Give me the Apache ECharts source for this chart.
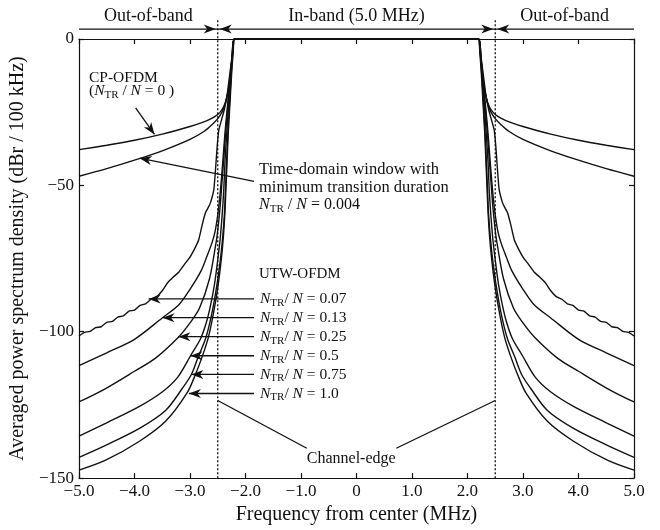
<!DOCTYPE html>
<html>
<head>
<meta charset="utf-8">
<script src="https://cdn.jsdelivr.net/npm/echarts@6/dist/echarts.min.js"></script>
<style>
  html, body { margin: 0; padding: 0; background: #fff; }
  #chart { width: 660px; height: 530px; }
</style>
</head>
<body>
<div id="chart"></div>
<script>
// 坐标轴范围
const freqMin = -5, freqMax = 5;
const psdMin = -150, psdMax = 0;
const channelEdge = 2.5;

// 左半边频谱 (MHz, dBr)，右半边为镜像
const cpFreq = [-5, -4.5, -4, -3.5, -3, -2.75, -2.6, -2.5, -2.42, -2.36, -2.31, -2.27, -2.24, -2.22, -2.2];
const cpPsd = [-37.8, -36.3, -34.6, -32.5, -29.9, -28.3, -27, -25.8, -24, -21.5, -17.5, -12, -6.5, -2.5, 0];

const minWinFreq = [-5, -4.5, -4, -3.5, -3, -2.75, -2.6, -2.5, -2.42, -2.36, -2.31, -2.27, -2.24, -2.22, -2.2];
const minWinPsd = [-46.9, -44.3, -41.4, -38.2, -34.3, -31.6, -29.2, -27.2, -24.8, -21.8, -17.5, -12, -6.5, -2.5, 0];

const utw007Freq = [-5, -4.9, -4.8, -4.7, -4.6, -4.5, -4.4, -4.3, -4.2, -4.1, -4, -3.9, -3.8, -3.7, -3.6, -3.5, -3.4, -3.3, -3.2, -3.1, -3, -2.9, -2.84, -2.78, -2.72, -2.67, -2.63, -2.57, -2.54, -2.51, -2.48, -2.43, -2.38, -2.33, -2.29, -2.25, -2.22, -2.2];
const utw007Psd = [-101.4, -100.2, -99.9, -98.6, -98.3, -96.8, -96.5, -95, -94.6, -93, -92.6, -91, -90.5, -88.9, -88, -86, -83.2, -81.3, -79.6, -77, -74.5, -71, -68.4, -63.5, -59.3, -57.5, -55.9, -51.4, -44.6, -36.6, -31, -27.5, -24, -19, -13, -7, -2.5, 0];

const utw013Freq = [-5, -4.5, -4, -3.5, -3.2, -3, -2.8, -2.7, -2.6, -2.54, -2.48, -2.43, -2.39, -2.36, -2.32, -2.28, -2.24, -2.2];
const utw013Psd = [-111.6, -107.2, -102.6, -95.3, -90.8, -85.5, -79.2, -74.5, -69.4, -65, -57, -47, -37, -30, -22, -14, -6, 0];

const utw025Freq = [-5, -4.52, -4, -3.62, -3.2, -3, -2.83, -2.65, -2.54, -2.51, -2.46, -2.42, -2.38, -2.35, -2.31, -2.27, -2.24, -2.2];
const utw025Psd = [-124, -119.4, -113.5, -109, -101.7, -97, -92, -82, -70.7, -67, -58, -48, -38, -30, -21, -13, -6, 0];

const utw05Freq = [-5, -4.52, -3.91, -3.49, -3.22, -2.99, -2.81, -2.7, -2.63, -2.56, -2.51, -2.46, -2.42, -2.39, -2.37, -2.34, -2.31, -2.27, -2.24, -2.2];
const utw05Psd = [-135.7, -131.3, -125.5, -120.4, -115.5, -108.2, -102.4, -96.5, -91, -84, -77, -69, -60, -51, -42, -33, -24, -14, -6, 0];

const utw075Freq = [-5, -4.52, -3.91, -3.44, -3.14, -2.975, -2.85, -2.72, -2.62, -2.54, -2.47, -2.42, -2.38, -2.36, -2.34, -2.32, -2.29, -2.26, -2.23, -2.2];
const utw075Psd = [-142.9, -138.8, -133, -126.9, -119.4, -114.6, -108.5, -102.4, -95, -87, -78, -69.5, -60, -51, -42, -33, -23, -13, -5, 0];

const utw10Freq = [-5, -4.52, -3.91, -3.44, -3.05, -2.9, -2.78, -2.67, -2.58, -2.5, -2.44, -2.4, -2.37, -2.35, -2.33, -2.31, -2.28, -2.25, -2.22, -2.2];
const utw10Psd = [-147.3, -143.9, -137.4, -130.6, -120.8, -114.5, -108.5, -102, -94, -85, -76, -68, -59, -50, -41, -32, -22, -12, -4, 0];

const utwRatios = ['0.07', '0.13', '0.25', '0.5', '0.75', '1.0'];

const FONT = '"Liberation Serif", "Times New Roman", serif';
const INK = '#111';

// 左半边 + 镜像得到完整曲线
function fullCurve(freq, psd) {
    const left = freq.map((f, i) => [f, psd[i]]);
    const right = left.slice().reverse().map(p => [-p[0], p[1]]);
    return left.concat(right);
}

const curves = [
    fullCurve(cpFreq, cpPsd),
    fullCurve(minWinFreq, minWinPsd),
    fullCurve(utw007Freq, utw007Psd),
    fullCurve(utw013Freq, utw013Psd),
    fullCurve(utw025Freq, utw025Psd),
    fullCurve(utw05Freq, utw05Psd),
    fullCurve(utw075Freq, utw075Psd),
    fullCurve(utw10Freq, utw10Psd)
];

function fmtFreq(v) {
    if (v === 0) return '0';
    return (v < 0 ? '\u2212' : '') + Math.abs(v).toFixed(1);
}
function fmtPsd(v) {
    if (v === 0) return '0';
    return (v < 0 ? '\u2212' : '') + Math.abs(v);
}

const chart = echarts.init(document.getElementById('chart'));

const axisLine = { show: true, onZero: false, lineStyle: { color: INK, width: 1.2 } };
const axisTick = { show: true, inside: true, length: 5, lineStyle: { color: INK, width: 1.2 } };

chart.setOption({
    animation: false,
    backgroundColor: '#fff',
    grid: { left: 76, right: 26, top: 39, bottom: 50 },
    xAxis: [
        {
            type: 'value', min: freqMin, max: freqMax, interval: 1,
            position: 'bottom',
            axisLine, axisTick,
            splitLine: { show: false },
            axisLabel: { formatter: fmtFreq, color: INK, fontSize: 17, fontFamily: FONT, margin: 5 },
            name: 'Frequency from center (MHz)',
            nameLocation: 'middle', nameGap: 24,
            nameTextStyle: { color: INK, fontSize: 20, fontFamily: FONT }
        },
        {
            type: 'value', min: freqMin, max: freqMax, interval: 1,
            position: 'top',
            axisLine, axisTick,
            splitLine: { show: false },
            axisLabel: { show: false }
        }
    ],
    yAxis: [
        {
            type: 'value', min: psdMin, max: psdMax, interval: 50,
            position: 'left',
            axisLine, axisTick,
            splitLine: { show: false },
            axisLabel: { formatter: fmtPsd, color: INK, fontSize: 17, fontFamily: FONT, margin: 5 },
            name: 'Averaged power spectrum density (dBr / 100 kHz)',
            nameLocation: 'middle', nameGap: 37, nameRotate: 90,
            nameTextStyle: { color: INK, fontSize: 20, fontFamily: FONT }
        },
        {
            type: 'value', min: psdMin, max: psdMax, interval: 50,
            position: 'right',
            axisLine, axisTick,
            splitLine: { show: false },
            axisLabel: { show: false }
        }
    ],
    series: curves.map((data, k) => ({
        type: 'line',
        data: data,
        symbol: 'none',
        clip: true,
        smooth: k === 2 ? 0.15 : 0.3,
        lineStyle: { color: INK, width: 1.4 },
        z: 3
    }))
});

// ---------- 注释 (箭头、文字、虚线) ----------
function px(f, d) {
    return chart.convertToPixel({ xAxisIndex: 0, yAxisIndex: 0 }, [f, d]);
}

function makeRich(size) {
    return {
        t: { fontSize: size, fontFamily: FONT, fill: INK },
        i: { fontSize: size, fontFamily: FONT, fontStyle: 'italic', fill: INK },
        s: { fontSize: Math.round(size * 0.7), fontFamily: FONT, fill: INK, padding: [8, 0, 0, 0] }
    };
}

function ratioText(ratio, spaced) {
    return '{i|N}{s|TR}{t|' + (spaced ? ' / ' : '/ ') + '}{i|N}{t| = ' + ratio + '}';
}

function textEl(f, d, text, align, size) {
    const p = px(f, d);
    size = size || 15;
    return {
        type: 'text', x: p[0], y: p[1], z: 10,
        style: {
            text: text, rich: makeRich(size),
            fontSize: size, fontFamily: FONT, fill: INK,
            align: align || 'left', verticalAlign: 'middle'
        }
    };
}

function lineEl(a, b, dashed) {
    return {
        type: 'line', z: 9,
        shape: { x1: a[0], y1: a[1], x2: b[0], y2: b[1] },
        style: { stroke: INK, lineWidth: 1.3, lineDash: dashed ? [2, 2] : null }
    };
}

function headEl(tail, tip) {
    const dx = tip[0] - tail[0], dy = tip[1] - tail[1];
    const len = Math.sqrt(dx * dx + dy * dy);
    const ux = dx / len, uy = dy / len;
    const nx = -uy, ny = ux;
    const L = 12, W = 4.5, notch = 3.5;
    return {
        type: 'polygon', z: 11,
        shape: {
            points: [
                [tip[0], tip[1]],
                [tip[0] - ux * L + nx * W, tip[1] - uy * L + ny * W],
                [tip[0] - ux * (L - notch), tip[1] - uy * (L - notch)],
                [tip[0] - ux * L - nx * W, tip[1] - uy * L - ny * W]
            ]
        },
        style: { fill: INK }
    };
}

function arrowEls(fromF, fromD, toF, toD) {
    const a = px(fromF, fromD), b = px(toF, toD);
    return [lineEl(a, b), headEl(a, b)];
}

function buildNotes() {
    const g = [];
    const headerPsd = 3.4;

    // 信道边缘虚线
    [-channelEdge, channelEdge].forEach(f => {
        g.push(lineEl(px(f, 6.4), px(f, psdMin), true));
    });

    // 顶部带内/带外指示
    g.push(lineEl(px(freqMin, headerPsd), px(freqMax, headerPsd)));
    [-channelEdge, channelEdge].forEach(f => {
        const c = px(f, headerPsd);
        g.push(headEl([c[0] - 20, c[1]], [c[0] - 2, c[1]]));
        g.push(headEl([c[0] + 20, c[1]], [c[0] + 2, c[1]]));
    });
    g.push(textEl(-3.75, 7.6, '{t|Out-of-band}', 'center', 18));
    g.push(textEl(0, 7.6, '{t|In-band (5.0 MHz)}', 'center', 18));
    g.push(textEl(3.75, 7.6, '{t|Out-of-band}', 'center', 18));

    // CP-OFDM
    g.push(textEl(-4.82, -13.3, '{t|CP-OFDM}', 'left', 15.5));
    g.push(textEl(-4.82, -17.8, '{t|(}' + ratioText('0 )', true), 'left', 15.5));
    g.push.apply(g, arrowEls(-3.98, -23.5, -3.64, -32.6));

    // 最小过渡时长窗
    g.push(textEl(-1.756, -44.6, '{t|Time-domain window with}', 'left', 16.5));
    g.push(textEl(-1.756, -50.7, '{t|minimum transition duration}', 'left', 16.5));
    g.push(textEl(-1.756, -56.8, ratioText('0.004', true), 'left', 16));
    g.push.apply(g, arrowEls(-1.846, -48.6, -3.907, -40.7));

    // UTW-OFDM
    g.push(textEl(-1.756, -80.3, '{t|UTW-OFDM}', 'left', 15));
    const labelPsd = [-88.8, -95.2, -101.7, -108.2, -114.6, -121.1];
    const tipFreq = [-3.746, -3.495, -3.208, -2.993, -2.975, -3.02];
    utwRatios.forEach((r, k) => {
        g.push(textEl(-1.738, labelPsd[k], ratioText(r, false), 'left', 15.5));
        g.push.apply(g, arrowEls(-1.846, labelPsd[k], tipFreq[k], labelPsd[k]));
    });

    // Channel-edge
    g.push(textEl(-0.896, -143.5, '{t|Channel-edge}', 'left', 16));
    g.push(lineEl(px(-0.896, -139.8), px(-channelEdge, -123.5)));
    g.push(lineEl(px(0.717, -139.8), px(channelEdge, -123.5)));

    chart.setOption({ graphic: g });
}

buildNotes();
</script>
</body>
</html>
